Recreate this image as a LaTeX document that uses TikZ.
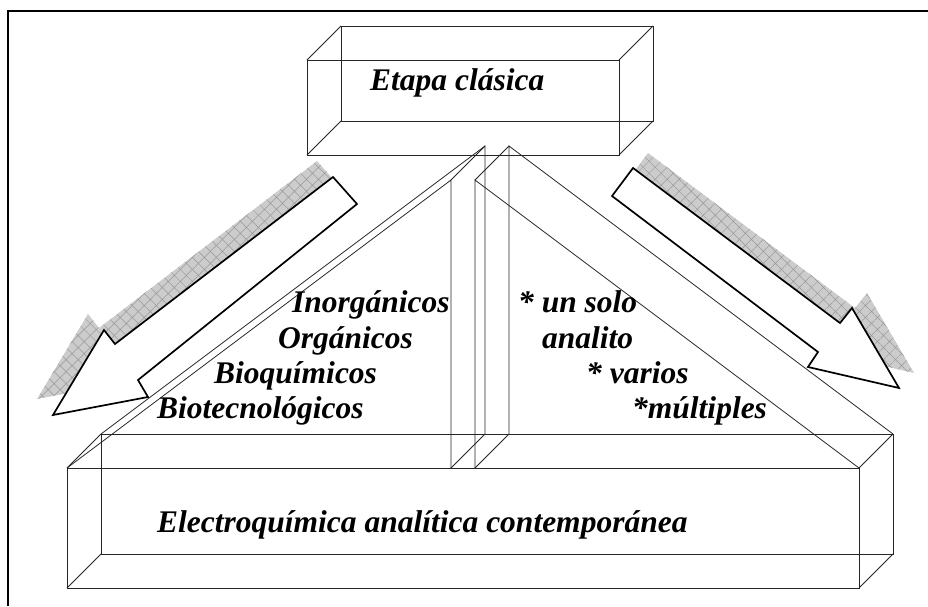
\documentclass[tikz,border=0pt]{standalone}
\usepackage{fontspec}
\setmainfont{Liberation Serif}
\usetikzlibrary{patterns.meta}
\begin{document}
\begin{tikzpicture}[x=1pt,y=-1pt,
  wire/.style={draw=black!85,line width=0.8pt},
  arrowbody/.style={draw=black,line width=1.7pt,fill=white,line join=miter},
  shadowfill/.style={fill=gray!40},
  shadowhatch/.style={pattern={Hatch[angle=45,distance=8.5pt,line width=0.5pt]},pattern color=gray!80},
  lbl/.style={anchor=base west,inner sep=0pt,font=\fontsize{31.5}{35}\selectfont\bfseries\itshape}]
\useasboundingbox (0,0) rectangle (928,606);
% frame
\draw[line width=2pt] (8,606) -- (8,10.5) -- (928,10.5);
% shadows
\foreach \sx/\sy in {-16/-16} {
  \fill[shadowfill,shift={(\sx,\sy)}] (333,177) -- (357,204) -- (138,380) -- (148,397) -- (53,415) -- (104,330) -- (115,344) -- cycle;
  \fill[shadowhatch,shift={(\sx,\sy)}] (333,177) -- (357,204) -- (138,380) -- (148,397) -- (53,415) -- (104,330) -- (115,344) -- cycle;
}
\foreach \sx/\sy in {15/-15} {
  \fill[shadowfill,shift={(\sx,\sy)}] (633,168) -- (612,196) -- (818,352) -- (808,367) -- (899,388) -- (852,308) -- (840,323) -- cycle;
  \fill[shadowhatch,shift={(\sx,\sy)}] (633,168) -- (612,196) -- (818,352) -- (808,367) -- (899,388) -- (852,308) -- (840,323) -- cycle;
}
% arrows
\draw[arrowbody] (333,177) -- (357,204) -- (138,380) -- (148,397) -- (53,415) -- (104,330) -- (115,344) -- cycle;
\draw[arrowbody] (633,168) -- (612,196) -- (818,352) -- (808,367) -- (899,388) -- (852,308) -- (840,323) -- cycle;
% top box
\coordinate (tf1) at (307,60);  \coordinate (tf2) at (619,60);
\coordinate (tf3) at (619,155); \coordinate (tf4) at (307,155);
\coordinate (tb1) at (341,26);  \coordinate (tb2) at (653,26);
\coordinate (tb3) at (653,121); \coordinate (tb4) at (341,121);
\draw[wire] (tf1) -- (tf2) -- (tf3) -- (tf4) -- cycle;
\draw[wire] (tb1) -- (tb2) -- (tb3) -- (tb4) -- cycle;
\draw[wire] (tf1) -- (tb1) (tf2) -- (tb2) (tf3) -- (tb3) (tf4) -- (tb4);
% bottom box
\coordinate (bf1) at (67,468);  \coordinate (bf2) at (859,468);
\coordinate (bf3) at (859,588); \coordinate (bf4) at (67,588);
\coordinate (bb1) at (101,434); \coordinate (bb2) at (893,434);
\coordinate (bb3) at (893,554); \coordinate (bb4) at (101,554);
\draw[wire] (bf1) -- (bf2) -- (bf3) -- (bf4) -- cycle;
\draw[wire] (bb1) -- (bb2) -- (bb3) -- (bb4) -- cycle;
\draw[wire] (bf1) -- (bb1) (bf2) -- (bb2) (bf3) -- (bb3) (bf4) -- (bb4);
% left prism
\coordinate (lfa) at (451,180); \coordinate (lba) at (485,146);
\coordinate (lfb) at (451,468); \coordinate (lbb) at (485,434);
\draw[wire] (bf1) -- (lfa) -- (lfb);
\draw[wire] (bb1) -- (lba) -- (lbb);
\draw[wire] (lfa) -- (lba) (lfb) -- (lbb);
% right prism
\coordinate (rfa) at (475,180); \coordinate (rba) at (509,146);
\coordinate (rfb) at (475,468); \coordinate (rbb) at (509,434);
\draw[wire] (bf2) -- (rfa) -- (rfb);
\draw[wire] (bb2) -- (rba) -- (rbb);
\draw[wire] (rfa) -- (rba) (rfb) -- (rbb);
% texts
\node[lbl] (t0) at (370,90) {Etapa clásica};
\node[lbl] (l1) at (292,312) {Inorgánicos};
\node[lbl] (l2) at (278,348) {Orgánicos};
\node[lbl] (l3) at (214,383) {Bioquímicos};
\node[lbl] (l4) at (157,418) {Biotecnológicos};
\node[lbl] (r1) at (518,312) {* un solo};
\node[lbl] (r2) at (542,348) {analito};
\node[lbl] (r3) at (586,383) {* varios};
\node[lbl] (r4) at (632,418) {*múltiples};
\node[lbl] (b0) at (157,532) {Electroquímica analítica contemporánea};
\end{tikzpicture}
\end{document}
